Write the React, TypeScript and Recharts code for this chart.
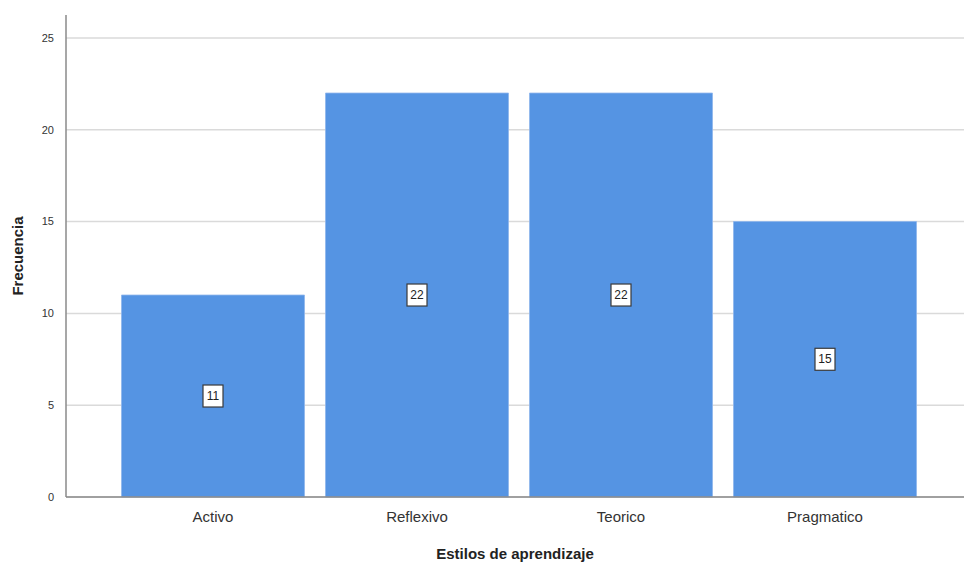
import React from "react";
import { BarChart, Bar, XAxis, YAxis, CartesianGrid, LabelList } from "recharts";

const categories = ["Activo", "Reflexivo", "Teorico", "Pragmatico"];
const frecuencias = [11, 22, 22, 15];
const yTicks = [0, 5, 10, 15, 20, 25];

const data = categories.map((c, i) => ({ name: c, value: frecuencias[i] }));

const FONT = "'Liberation Sans', Arial, sans-serif";

const BoxLabel = (props: any) => {
  const { x, y, width, height, value } = props;
  const cx = x + width / 2;
  const cy = y + height / 2;
  const w = 20;
  const h = 22;
  return (
    <g>
      <rect x={cx - w / 2} y={cy - h / 2} width={w} height={h} fill="#ffffff" stroke="#3a3a3a" strokeWidth={1.2} />
      <text x={cx} y={cy + 4} textAnchor="middle" fontSize={12} fontFamily={FONT} fill="#222">
        {value}
      </text>
    </g>
  );
};

export default function App() {
  return (
    <div style={{ position: "absolute", left: 0, top: 0, background: "#fff" }}>
      <BarChart
        width={964}
        height={565}
        data={data}
        margin={{ top: 15, right: 0, bottom: 0, left: 0 }}
        barCategoryGap={10.5}
      >
        <CartesianGrid vertical={false} horizontalValues={yTicks} stroke="#dadada" strokeWidth={1.5} />
        <XAxis
          dataKey="name"
          height={68}
          padding={{ left: 45, right: 37 }}
          tickLine={false}
          axisLine={{ stroke: "#8a8a8a", strokeWidth: 1.5 }}
          tick={{ fontSize: 15, fill: "#333", fontFamily: FONT }}
          tickMargin={8}
          label={{
            value: "Estilos de aprendizaje",
            position: "insideBottom",
            offset: 6,
            style: { fontSize: 15, fontWeight: "bold", fill: "#222", fontFamily: FONT },
          }}
        />
        <YAxis
          width={66}
          domain={[0, 26.25]}
          ticks={yTicks}
          tickLine={false}
          axisLine={{ stroke: "#8a8a8a", strokeWidth: 1.5 }}
          tick={{ fontSize: 11, fill: "#333", fontFamily: FONT }}
          tickMargin={6}
          label={{
            value: "Frecuencia",
            angle: -90,
            position: "insideLeft",
            offset: 18,
            style: { fontSize: 15, fontWeight: "bold", fill: "#222", fontFamily: FONT, textAnchor: "middle" },
          }}
        />
        <Bar dataKey="value" fill="#5594e3" stroke="#8fb6ec" strokeWidth={0.8} isAnimationActive={false}>
          <LabelList dataKey="value" content={<BoxLabel />} />
        </Bar>
      </BarChart>
    </div>
  );
}
